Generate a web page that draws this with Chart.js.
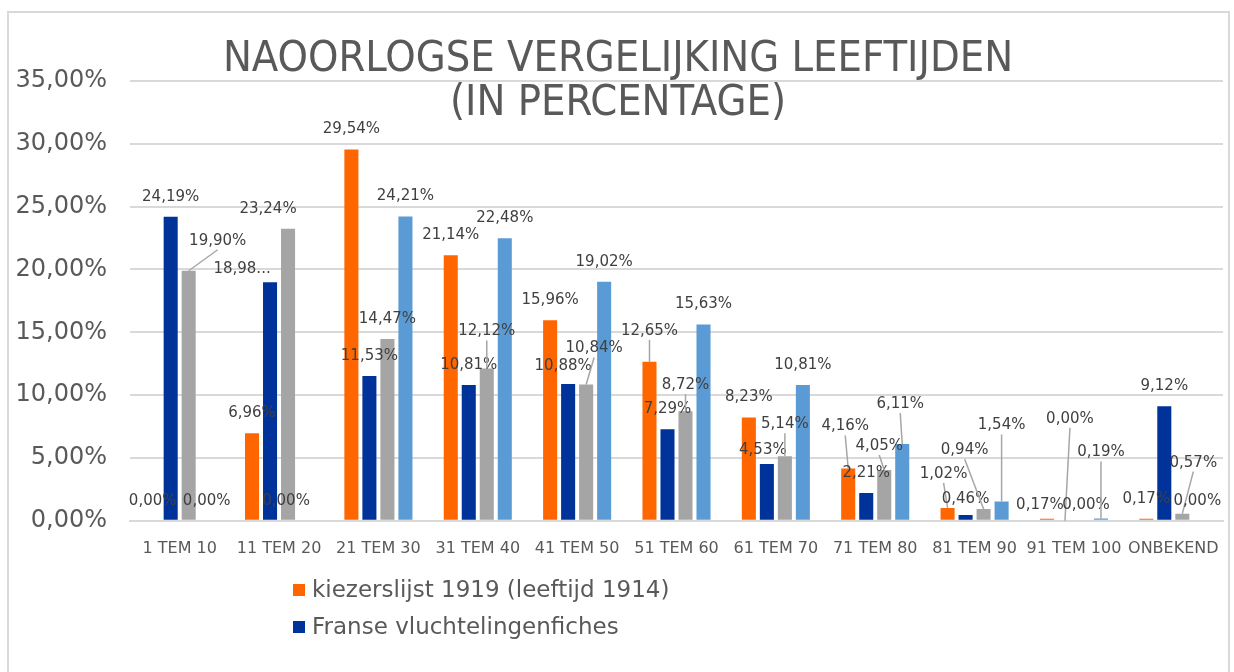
<!DOCTYPE html>
<html>
<head>
<meta charset="utf-8">
<script src="https://cdn.jsdelivr.net/npm/chart.js@4"></script>
<style>
  html, body { margin: 0; padding: 0; background: #fff; overflow: hidden; }
  #wrap { position: relative; width: 1234px; height: 672px; }
  #frame { position: absolute; left: 7px; top: 11px; width: 1219px; height: 700px; border: 2px solid #d9d9d9; }
  #title { position: absolute; left: 0; width: 1236px; top: 34px; text-align: center; color: #595959;
    font-family: "DejaVu Sans Condensed", "DejaVu Sans", sans-serif; font-stretch: condensed; font-size: 43px; line-height: 44px; }
  #legend { position: absolute; left: 293px; top: 572px; font-family: "DejaVu Sans", Verdana, sans-serif; font-size: 23px; color: #595959; }
  .item { height: 37px; line-height: 35px; white-space: nowrap; }
  .box { display: inline-block; width: 12px; height: 12px; margin-right: 7px; vertical-align: 1px; }
  canvas { position: absolute; left: 0; top: 0; }
</style>
</head>
<body>
<div id="wrap">
  <div id="frame"></div>
  <canvas id="myChart" width="1234" height="672"></canvas>
  <div id="title">NAOORLOGSE VERGELIJKING LEEFTIJDEN<br>(IN PERCENTAGE)</div>
  <div id="legend"></div>
</div>
<script>
var categories = ['1 TEM 10', '11 TEM 20', '21 TEM 30', '31 TEM 40', '41 TEM 50', '51 TEM 60',
  '61 TEM 70', '71 TEM 80', '81 TEM 90', '91 TEM 100', 'ONBEKEND'];
var seriesNames = ['kiezerslijst 1919 (leeftijd 1914)', 'Franse vluchtelingenfiches', 'reeks 3', 'reeks 4'];
var kiezerslijst = [0.00, 6.96, 29.54, 21.14, 15.96, 12.65, 8.23, 4.16, 1.02, 0.17, 0.17];
var vluchtelingen = [24.19, 18.98, 11.53, 10.81, 10.88, 7.29, 4.53, 2.21, 0.46, 0.00, 9.12];
var reeks3 = [19.90, 23.24, 14.47, 12.12, 10.84, 8.72, 5.14, 4.05, 0.94, 0.00, 0.57];
var reeks4 = [0.00, 0.00, 24.21, 22.48, 19.02, 15.63, 10.81, 6.11, 1.54, 0.19, 0.00];
var yTicks = [0, 5, 10, 15, 20, 25, 30, 35];

var colors = ['#ff6600', '#003399', '#a5a5a5', '#5b9bd5'];
var shownInLegend = 2; // rest of the legend falls off the picture

// label moves as done by hand in the original (dx, dy in px)
var nudge = [
  [[0,0],[0,0],[0,0],[0,0],[0,0],[0,-11],[0,0],[-3,-22],[-4,-14],[-7,6],[0,0]],
  [[0,0],[-28,7],[0,0],[0,0],[-5,2],[0,0],[-4,6],[0,0],[0,4],[5,-82],[0,0]],
  [[29,-10],[-20,0],[0,0],[0,-17],[8,-16],[0,-6],[0,-12],[-5,-4],[-19,-39],[3,4],[11,-31]],
  [[0,0],[-20,0],[0,0],[0,0],[0,0],[0,0],[0,0],[-2,-20],[0,-56],[0,-46],[-3,0]]
];
var cutLabel = { '1-1': '18,98...' };

function pct(v) {
  return v.toFixed(2).replace('.', ',') + '%';
}

var barLabels = {
  id: 'barLabels',
  afterDatasetsDraw: function (chart) {
    var ctx = chart.ctx;
    ctx.save();
    ctx.font = '15px "DejaVu Sans", Verdana, sans-serif';
    ctx.textAlign = 'center';
    ctx.textBaseline = 'middle';
    chart.data.datasets.forEach(function (ds, d) {
      var meta = chart.getDatasetMeta(d);
      meta.data.forEach(function (bar, i) {
        var n = nudge[d][i];
        var lx = bar.x + n[0];
        var ly = bar.y - 20 + n[1];
        if (n[1] < -2) {
          ctx.strokeStyle = '#a6a6a6';
          ctx.lineWidth = 1.5;
          ctx.beginPath();
          ctx.moveTo(lx, ly + 9);
          ctx.lineTo(bar.x, bar.y);
          ctx.stroke();
        }
        ctx.fillStyle = '#404040';
        var txt = cutLabel[d + '-' + i] || pct(ds.data[i]);
        ctx.fillText(txt, lx, ly);
      });
    });
    ctx.restore();
  }
};

var datasets = [kiezerslijst, vluchtelingen, reeks3, reeks4].map(function (vals, k) {
  return {
    label: seriesNames[k],
    data: vals,
    backgroundColor: colors[k],
    borderWidth: 0,
    barPercentage: 0.78,
    categoryPercentage: 0.725
  };
});

var ctx = document.getElementById('myChart');
new Chart(ctx, {
  type: 'bar',
  data: { labels: categories, datasets: datasets },
  plugins: [barLabels],
  options: {
    responsive: false,
    animation: false,
    layout: { padding: { left: 15, right: 11, top: 81, bottom: 104 } },
    plugins: {
      legend: { display: false },
      title: { display: false },
      tooltip: { enabled: false }
    },
    scales: {
      x: {
        grid: { display: false },
        border: { color: '#d9d9d9', width: 2 },
        ticks: { color: '#595959', font: { family: '"DejaVu Sans", Verdana, sans-serif', size: 16 }, padding: 10, maxRotation: 0, autoSkip: false }
      },
      y: {
        min: 0,
        max: 35,
        afterBuildTicks: function (axis) {
          axis.ticks = yTicks.map(function (v) { return { value: v }; });
        },
        afterFit: function (axis) {
          axis.width = 115;
        },
        grid: { color: '#d9d9d9', lineWidth: 2, drawTicks: false },
        border: { display: false },
        ticks: {
          color: '#595959',
          padding: 23,
          font: { family: '"DejaVu Sans", Verdana, sans-serif', size: 24 },
          callback: function (v) { return pct(v); }
        }
      }
    }
  }
});

var legend = document.getElementById('legend');
for (var i = 0; i < shownInLegend; i++) {
  var row = document.createElement('div');
  row.className = 'item';
  row.innerHTML = '<span class="box" style="background:' + colors[i] + '"></span>' + seriesNames[i];
  legend.appendChild(row);
}
</script>
</body>
</html>
